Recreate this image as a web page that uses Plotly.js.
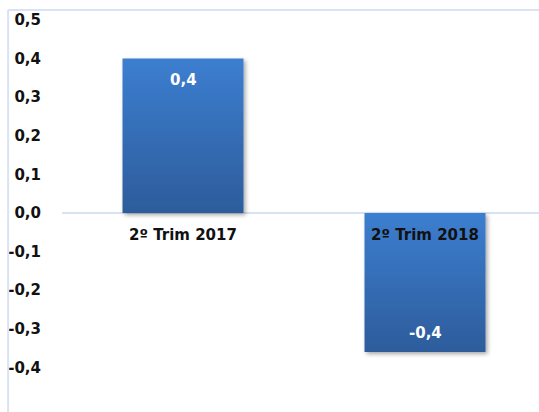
<!DOCTYPE html>
<html>
<head>
<meta charset="utf-8">
<script src="https://cdn.plot.ly/plotly-3.0.1.min.js"></script>
<style>
html,body{margin:0;padding:0;background:#fff;}
#chart{width:539px;height:412px;}
</style>
</head>
<body>
<div id="chart"></div>
<script>
var categories = ["2º Trim 2017", "2º Trim 2018"];
var values = [0.40, -0.36];
var yTickVals = [-0.4, -0.3, -0.2, -0.1, 0.0, 0.1, 0.2, 0.3, 0.4, 0.5];

var FONT = "DejaVu Sans, Verdana, sans-serif";

function fmt(v) { return v.toFixed(1).replace('.', ','); }

var trace = {
  type: 'bar',
  x: categories,
  y: values,
  marker: { color: '#3570b8', line: { width: 0 } },
  hoverinfo: 'none'
};

var annotations = categories.map(function (c, i) {
  var v = values[i];
  return {
    x: c, y: v, xref: 'x', yref: 'y',
    text: '<b>' + fmt(v) + '</b>',
    showarrow: false,
    yanchor: v >= 0 ? 'top' : 'bottom',
    yshift: v >= 0 ? -10 : 8,
    font: { family: FONT, size: 15, color: '#ffffff' }
  };
});

var layout = {
  width: 539, height: 412,
  margin: { l: 62, r: 0, t: 20, b: 6 },
  paper_bgcolor: '#ffffff',
  plot_bgcolor: 'rgba(0,0,0,0)',
  showlegend: false,
  bargap: 0.5,
  separators: ',.',
  font: { family: FONT, color: '#111111' },
  xaxis: {
    range: [-0.5, 1.471],
    anchor: 'free', position: 0.5,
    showgrid: false, showline: false, zeroline: false,
    ticks: 'outside', ticklen: 8, tickcolor: 'rgba(0,0,0,0)',
    tickfont: { family: FONT, size: 15, color: '#111111', weight: 'bold' },
    fixedrange: true
  },
  yaxis: {
    range: [-0.5, 0.5],
    tickvals: yTickVals,
    ticktext: yTickVals.map(fmt),
    showgrid: false, showline: false,
    zeroline: true, zerolinecolor: '#d9e2f3', zerolinewidth: 2,
    ticks: 'outside', ticklen: 17, tickcolor: 'rgba(0,0,0,0)',
    tickfont: { family: FONT, size: 15, color: '#111111', weight: 'bold' },
    fixedrange: true
  },
  shapes: [
    { type: 'line', xref: 'paper', yref: 'paper', x0: -0.113, x1: 1.0, y0: 1.026, y1: 1.026,
      line: { color: '#dae3f3', width: 2 } },
    { type: 'line', xref: 'paper', yref: 'paper', x0: -0.113, x1: -0.113, y0: -0.02, y1: 1.026,
      line: { color: '#dae3f3', width: 2 } }
  ],
  annotations: annotations
};

Plotly.newPlot('chart', [trace], layout, { staticPlot: true, displayModeBar: false }).then(function () {
  var svg = document.querySelector('#chart .main-svg');
  var defs = svg.querySelector('defs');
  var ns = 'http://www.w3.org/2000/svg';
  var lg = document.createElementNS(ns, 'linearGradient');
  lg.setAttribute('id', 'barGrad');
  lg.setAttribute('x1', '0'); lg.setAttribute('y1', '0');
  lg.setAttribute('x2', '0'); lg.setAttribute('y2', '1');
  [['0', '#3c7ed0'], ['1', '#2d5c9b']].forEach(function (s) {
    var st = document.createElementNS(ns, 'stop');
    st.setAttribute('offset', s[0]);
    st.setAttribute('stop-color', s[1]);
    lg.appendChild(st);
  });
  defs.appendChild(lg);
  var f = document.createElementNS(ns, 'filter');
  f.setAttribute('id', 'barShadow');
  f.setAttribute('x', '-10%'); f.setAttribute('y', '-10%');
  f.setAttribute('width', '130%'); f.setAttribute('height', '130%');
  var ds = document.createElementNS(ns, 'feDropShadow');
  ds.setAttribute('dx', '2'); ds.setAttribute('dy', '2');
  ds.setAttribute('stdDeviation', '2');
  ds.setAttribute('flood-color', '#000');
  ds.setAttribute('flood-opacity', '0.35');
  f.appendChild(ds);
  defs.appendChild(f);
  document.querySelectorAll('#chart .bars .point path').forEach(function (p) {
    p.style.fill = 'url(#barGrad)';
    p.setAttribute('filter', 'url(#barShadow)');
  });
});
</script>
</body>
</html>
